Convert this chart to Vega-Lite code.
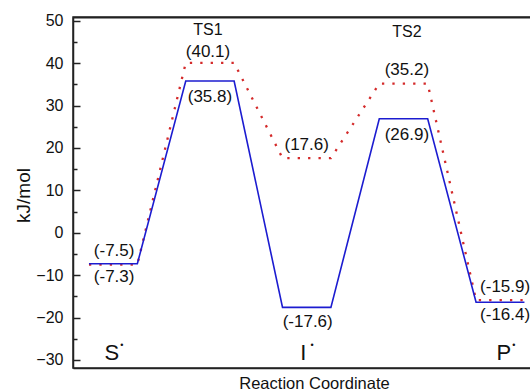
{
  "$schema": "https://vega.github.io/schema/vega-lite/v6.json",
  "width": 465,
  "height": 351,
  "autosize": "none",
  "padding": {"left": 73, "top": 17, "right": 0, "bottom": 24},
  "background": "white",
  "config": {
    "font": "Liberation Sans",
    "view": {"stroke": "#222222", "strokeWidth": 1.5}
  },
  "datasets": {
    "profile": [
      {"series": "B", "x": 1, "y": -7.3},
      {"series": "B", "x": 2, "y": -7.3},
      {"series": "B", "x": 3, "y": 35.8},
      {"series": "B", "x": 4, "y": 35.8},
      {"series": "B", "x": 5, "y": -17.6},
      {"series": "B", "x": 6, "y": -17.6},
      {"series": "B", "x": 7, "y": 26.9},
      {"series": "B", "x": 8, "y": 26.9},
      {"series": "B", "x": 9, "y": -16.4},
      {"series": "B", "x": 10, "y": -16.4},
      {"series": "A", "x": 1, "y": -7.5},
      {"series": "A", "x": 2, "y": -7.5},
      {"series": "A", "x": 3, "y": 40.1},
      {"series": "A", "x": 4, "y": 40.1},
      {"series": "A", "x": 5, "y": 17.6},
      {"series": "A", "x": 6, "y": 17.6},
      {"series": "A", "x": 7, "y": 35.2},
      {"series": "A", "x": 8, "y": 35.2},
      {"series": "A", "x": 9, "y": -15.9},
      {"series": "A", "x": 10, "y": -15.9}
    ],
    "labels": [
      {"kind": "ts", "x": 3.46, "y": 47.9, "text": "TS1"},
      {"kind": "ts", "x": 7.57, "y": 47.4, "text": "TS2"},
      {"kind": "value", "x": 3.46, "y": 42.7, "text": "(40.1)"},
      {"kind": "value", "x": 3.5, "y": 32.05, "text": "(35.8)"},
      {"kind": "value", "x": 7.57, "y": 38.4, "text": "(35.2)"},
      {"kind": "value", "x": 7.57, "y": 23.1, "text": "(26.9)"},
      {"kind": "value", "x": 5.5, "y": 20.7, "text": "(17.6)"},
      {"kind": "value", "x": 1.52, "y": -4.3, "text": "(-7.5)"},
      {"kind": "value", "x": 1.52, "y": -10.45, "text": "(-7.3)"},
      {"kind": "value", "x": 5.52, "y": -21.0, "text": "(-17.6)"},
      {"kind": "value", "x": 9.6, "y": -12.7, "text": "(-15.9)"},
      {"kind": "value", "x": 9.6, "y": -19.4, "text": "(-16.4)"},
      {"kind": "state", "x": 1.475, "y": -28.4, "text": "S"},
      {"kind": "state", "x": 5.43, "y": -28.4, "text": "I"},
      {"kind": "state", "x": 9.575, "y": -28.4, "text": "P"},
      {"kind": "dot", "x": 1.68, "y": -26.4, "text": "•"},
      {"kind": "dot", "x": 5.61, "y": -26.5, "text": "•"},
      {"kind": "dot", "x": 9.78, "y": -26.5, "text": "•"}
    ]
  },
  "resolve": {"axis": {"y": "independent"}},
  "layer": [
    {
      "data": {"name": "profile"},
      "transform": [{"filter": "datum.series === 'A'"}],
      "mark": {"type": "line", "color": "#d42a2a", "strokeWidth": 2.3, "strokeDash": [2.3, 8.1]},
      "encoding": {
        "x": {
          "field": "x",
          "type": "quantitative",
          "scale": {"domain": [0.67, 10.28], "nice": false, "zero": false},
          "axis": {
            "title": "Reaction Coordinate",
            "labels": false,
            "ticks": false,
            "domain": true,
            "domainColor": "#222222",
            "domainWidth": 1.5,
            "grid": false,
            "titleFontSize": 16.5,
            "titleFontWeight": "normal",
            "titleColor": "#111111",
            "titleBaseline": "alphabetic",
            "titleY": 20.5,
            "titleX": 241
          }
        },
        "y": {
          "field": "y",
          "type": "quantitative",
          "scale": {"domain": [-31.9, 50.9], "nice": false, "zero": false},
          "axis": {
            "orient": "left",
            "title": "kJ/mol",
            "values": [-30, -20, -10, 0, 10, 20, 30, 40, 50],
            "ticks": false,
            "domain": true,
            "domainColor": "#222222",
            "domainWidth": 1.5,
            "grid": false,
            "labelFontSize": 16,
            "labelColor": "#111111",
            "labelPadding": 10,
            "titleFontSize": 19,
            "titleFontWeight": "normal",
            "titleColor": "#111111",
            "titleAngle": -90,
            "titleX": -50,
            "titleY": 178,
            "titleAlign": "center",
            "titleBaseline": "middle"
          }
        }
      }
    },
    {
      "data": {"name": "profile"},
      "transform": [{"filter": "datum.series === 'B'"}],
      "mark": {"type": "line", "color": "#1c1cd0", "strokeWidth": 1.6},
      "encoding": {
        "x": {"field": "x", "type": "quantitative"},
        "y": {
          "field": "y",
          "type": "quantitative",
          "axis": {
            "orient": "right",
            "offset": -465,
            "title": null,
            "labels": false,
            "domain": false,
            "grid": false,
            "values": [-30, -25, -20, -15, -10, -5, 0, 5, 10, 15, 20, 25, 30, 35, 40, 45, 50],
            "tickSize": {"condition": {"test": "datum.value % 10 === 0", "value": 7}, "value": 4},
            "tickColor": "#222222",
            "tickWidth": 1.5
          }
        }
      }
    },
    {
      "data": {"values": [{"edge": "top"}]},
      "mark": {"type": "rule", "color": "#222222", "strokeWidth": 1.6},
      "encoding": {
        "y": {"datum": 50.75, "type": "quantitative", "axis": null}
      }
    },
    {
      "data": {"name": "labels"},
      "transform": [{"filter": "datum.kind === 'ts'"}],
      "mark": {"type": "text", "fontSize": 16, "color": "#111111", "baseline": "middle", "align": "center"},
      "encoding": {
        "x": {"field": "x", "type": "quantitative"},
        "y": {"field": "y", "type": "quantitative", "axis": null},
        "text": {"field": "text"}
      }
    },
    {
      "data": {"name": "labels"},
      "transform": [{"filter": "datum.kind === 'value'"}],
      "mark": {"type": "text", "fontSize": 17, "color": "#111111", "baseline": "middle", "align": "center"},
      "encoding": {
        "x": {"field": "x", "type": "quantitative"},
        "y": {"field": "y", "type": "quantitative", "axis": null},
        "text": {"field": "text"}
      }
    },
    {
      "data": {"name": "labels"},
      "transform": [{"filter": "datum.kind === 'state'"}],
      "mark": {"type": "text", "fontSize": 22, "color": "#111111", "baseline": "middle", "align": "center"},
      "encoding": {
        "x": {"field": "x", "type": "quantitative"},
        "y": {"field": "y", "type": "quantitative", "axis": null},
        "text": {"field": "text"}
      }
    },
    {
      "data": {"name": "labels"},
      "transform": [{"filter": "datum.kind === 'dot'"}],
      "mark": {"type": "text", "fontSize": 9, "color": "#111111", "baseline": "middle", "align": "center"},
      "encoding": {
        "x": {"field": "x", "type": "quantitative"},
        "y": {"field": "y", "type": "quantitative", "axis": null},
        "text": {"field": "text"}
      }
    }
  ]
}
